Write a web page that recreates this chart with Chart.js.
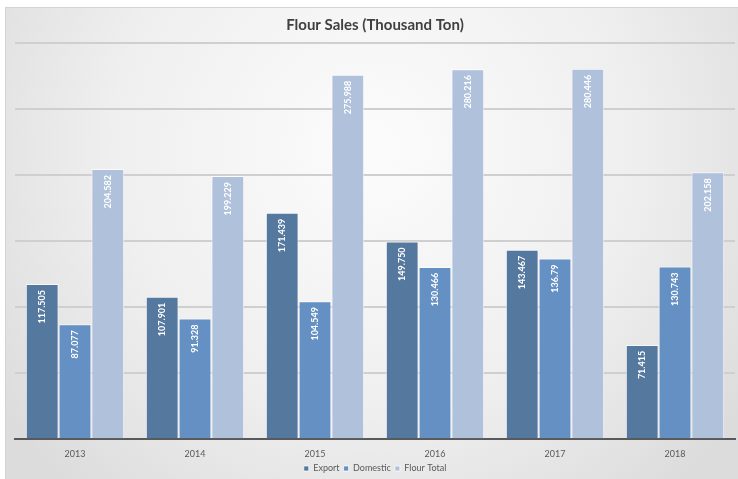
<!DOCTYPE html>
<html lang="en">
<head>
    <meta charset="UTF-8">
    <title>Flour Sales</title>
    <script src="https://cdn.jsdelivr.net/npm/chart.js"></script>
    <style>
        body {
            margin: 0;
            background: #fff;
        }
        #wrap {
            width: 738px;
            height: 479px;
        }
    </style>
</head>
<body>
    <div id="wrap"><canvas id="salesChart"></canvas></div>

    <script>
        // Years and sales per series (thousand ton), as printed on the bars
        const years = ['2013', '2014', '2015', '2016', '2017', '2018'];
        const exportText = ['117.505', '107.901', '171.439', '149.750', '143.467', '71.415'];
        const domesticText = ['87.077', '91.328', '104.549', '130.466', '136.79', '130.743'];
        const totalText = ['204.582', '199.229', '275.988', '280.216', '280.446', '202.158'];

        const exportSales = exportText.map(Number);
        const domesticSales = domesticText.map(Number);
        const totalSales = totalText.map(Number);

        const font = 'Lato, "Open Sans", sans-serif';

        // grey frame with a soft light centre behind the whole chart
        const backdrop = {
            id: 'backdrop',
            beforeDraw(chart) {
                const ctx = chart.ctx;
                const x0 = 5, y0 = 7, w = chart.width - x0, h = chart.height - y0;
                ctx.save();
                const g = ctx.createRadialGradient(x0 + w * 0.5, y0 + h * 0.3, 20, x0 + w * 0.5, y0 + h * 0.3, w * 0.62);
                g.addColorStop(0, '#fbfbfb');
                g.addColorStop(0.55, '#efefef');
                g.addColorStop(1, '#dcdcdc');
                ctx.fillStyle = g;
                ctx.fillRect(x0, y0, w, h);
                ctx.strokeStyle = '#d4d4d4';
                ctx.lineWidth = 1;
                ctx.strokeRect(x0 + 0.5, y0 + 0.5, w, h);
                ctx.restore();
            }
        };

        // white rotated value labels just under the top of each bar
        const barLabels = {
            id: 'barLabels',
            afterDatasetsDraw(chart) {
                const ctx = chart.ctx;
                ctx.save();
                ctx.fillStyle = '#ffffff';
                ctx.font = 'bold 9px ' + font;
                ctx.textAlign = 'right';
                ctx.textBaseline = 'middle';
                chart.data.datasets.forEach((ds, i) => {
                    chart.getDatasetMeta(i).data.forEach((bar, j) => {
                        ctx.save();
                        ctx.translate(bar.x, bar.y);
                        ctx.rotate(-Math.PI / 2);
                        ctx.fillText(ds.labelsText[j], -6, 0);
                        ctx.restore();
                    });
                });
                ctx.restore();
            }
        };

        const ctx = document.getElementById('salesChart').getContext('2d');
        new Chart(ctx, {
            type: 'bar',
            data: {
                labels: years,
                datasets: [
                    {
                        label: 'Export',
                        data: exportSales,
                        labelsText: exportText,
                        backgroundColor: '#55789f',
                        borderColor: 'rgba(255,255,255,0.7)',
                        borderWidth: 1
                    },
                    {
                        label: 'Domestic',
                        data: domesticSales,
                        labelsText: domesticText,
                        backgroundColor: '#6590c3',
                        borderColor: 'rgba(255,255,255,0.7)',
                        borderWidth: 1
                    },
                    {
                        label: 'Flour Total',
                        data: totalSales,
                        labelsText: totalText,
                        backgroundColor: '#b0c1dc',
                        borderColor: 'rgba(255,255,255,0.7)',
                        borderWidth: 1
                    }
                ]
            },
            options: {
                responsive: true,
                maintainAspectRatio: false,
                animation: false,
                layout: {
                    padding: { left: 15, right: 3, top: 8, bottom: -4 }
                },
                datasets: {
                    bar: {
                        categoryPercentage: 0.82,
                        barPercentage: 1
                    }
                },
                plugins: {
                    title: {
                        display: true,
                        text: 'Flour Sales (Thousand Ton)',
                        color: '#404040',
                        font: { family: font, size: 15, weight: 'bold' },
                        padding: { top: 8, bottom: 9 }
                    },
                    legend: {
                        position: 'bottom',
                        labels: {
                            color: '#595959',
                            font: { family: font, size: 9 },
                            boxWidth: 5,
                            boxHeight: 5,
                            padding: 4
                        }
                    },
                    tooltip: { enabled: false }
                },
                scales: {
                    x: {
                        grid: { display: false },
                        border: { color: '#595959', width: 2 },
                        ticks: {
                            color: '#595959',
                            font: { family: font, size: 9 },
                            padding: 1
                        }
                    },
                    y: {
                        min: 0,
                        max: 300,
                        ticks: { stepSize: 50, display: false },
                        grid: { color: '#cfcfcf', lineWidth: 2, drawTicks: false },
                        border: { display: false }
                    }
                }
            },
            plugins: [backdrop, barLabels]
        });
    </script>
</body>
</html>
